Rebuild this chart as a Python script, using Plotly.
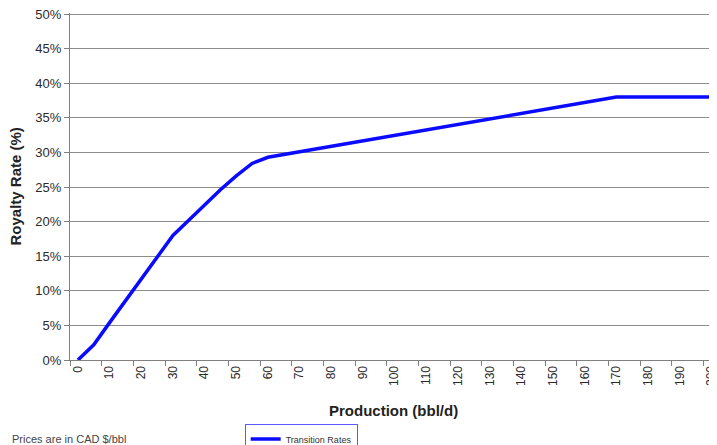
import plotly.graph_objects as go

production = list(range(0, 205, 5))
royalty_rate = [0.0, 2.2, 5.4, 8.5, 11.7, 14.8, 18.0, 20.2, 22.4, 24.6, 26.6, 28.4, 29.3,
                29.7, 30.0, 30.4, 30.8, 31.2, 31.6, 32.0, 32.4, 32.8, 33.2, 33.6, 34.0,
                34.4, 34.8, 35.3, 35.7, 36.1, 36.4, 36.8, 37.2, 37.6, 38.0, 38.0, 38.0,
                38.0, 38.0, 38.0, 38.0]
x_tick_vals = list(range(0, 201, 10))
y_tick_vals = list(range(0, 51, 5))
series_name = "Transition Rates"

fig = go.Figure()
fig.add_trace(go.Scatter(x=production, y=royalty_rate, mode="lines", name=series_name,
                         line=dict(color="#0a0aff", width=3.5)))

fig.update_layout(
    width=709, height=437,
    margin=dict(l=62, r=0, t=5, b=85, autoexpand=False),
    paper_bgcolor="white", plot_bgcolor="white",
    font=dict(family="Liberation Sans, Arial, sans-serif", color="#2a2a2a"),
    showlegend=True,
    legend=dict(x=0.27, y=-0.183, xanchor="left", yanchor="top",
                bordercolor="#5a5aff", borderwidth=1, font=dict(size=9, color="#333"),
                bgcolor="white", itemwidth=30, tracegroupgap=0),
    annotations=[
        dict(text="<b>Royalty Rate (%)</b>", xref="paper", yref="paper", x=-0.085, y=0.5,
             textangle=-90, showarrow=False, font=dict(size=15, color="#222"),
             xanchor="center", yanchor="middle"),
        dict(text="<b>Production (bbl/d)</b>", xref="paper", yref="paper", x=0.5, y=-0.1445,
             showarrow=False, font=dict(size=15, color="#222"), xanchor="center", yanchor="middle"),
        dict(text="Prices are in CAD $/bbl", xref="paper", yref="paper", x=-0.093, y=-0.228,
             showarrow=False, font=dict(size=11, color="#444"), xanchor="left", yanchor="middle"),
    ],
)

fig.update_xaxes(range=[-2.5, 201.8], tickmode="array", tickvals=x_tick_vals,
                 ticktext=[str(v) for v in x_tick_vals], tickangle=-90, automargin=False,
                 ticklabeloverflow="allow",
                 tickfont=dict(size=12, color="#2a2a2a"), ticks="",
                 showgrid=False, zeroline=False, showline=True, linecolor="#808080", linewidth=1.3,
                 minor=dict(tickmode="linear", tick0=-2.5, dtick=10, ticks="outside", ticklen=5,
                            tickcolor="#808080", tickwidth=1, showgrid=False))
fig.update_yaxes(range=[0, 50.15], tickmode="array", tickvals=y_tick_vals, automargin=False,
                 ticklabeloverflow="allow",
                 ticktext=[f"{v}%" for v in y_tick_vals],
                 tickfont=dict(size=13, color="#2a2a2a"), ticks="outside", ticklen=5,
                 tickcolor="#808080", showgrid=True, gridcolor="#8c8c8c", gridwidth=1.3,
                 zeroline=False, showline=True, linecolor="#808080", linewidth=1.3)

fig.write_html("out.html")
